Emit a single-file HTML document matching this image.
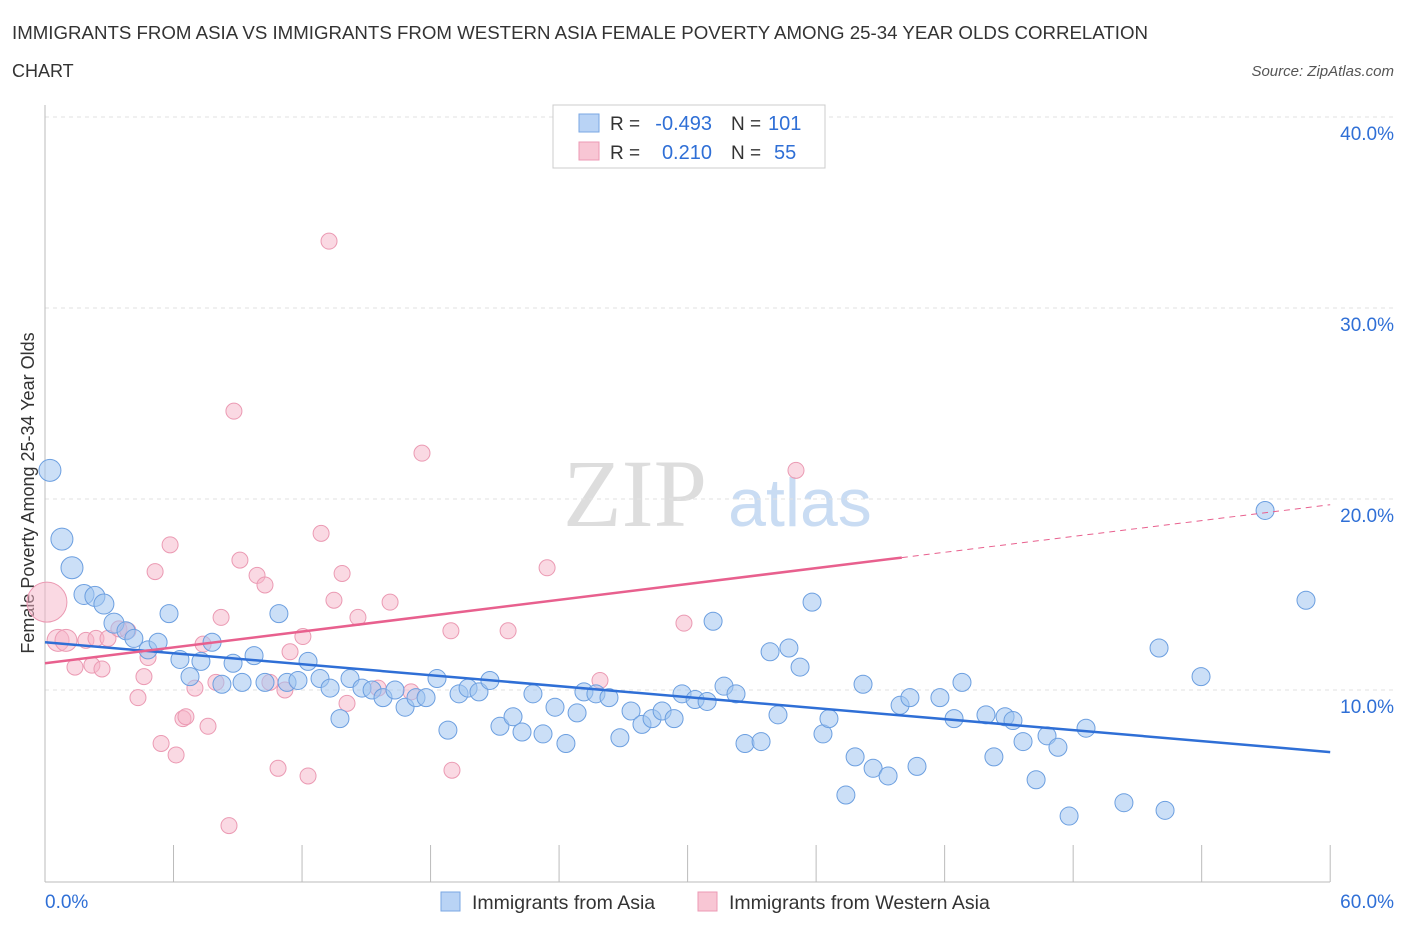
<!DOCTYPE html>
<html><head><meta charset="utf-8"><style>
body{margin:0;background:#fff;font-family:"Liberation Sans",sans-serif}
svg{display:block}
</style></head><body>
<svg id="chart" width="1406" height="930">
<text x="12" y="39" font-size="18" fill="#333" textLength="1136" lengthAdjust="spacingAndGlyphs">IMMIGRANTS FROM ASIA VS IMMIGRANTS FROM WESTERN ASIA FEMALE POVERTY AMONG 25-34 YEAR OLDS CORRELATION</text>
<text x="12" y="77" font-size="18" fill="#333">CHART</text>
<text x="1394" y="76" font-size="15" fill="#555" font-style="italic" text-anchor="end">Source: ZipAtlas.com</text>
<text x="635" y="526" font-size="96" fill="#ddd" font-family="Liberation Serif,serif" text-anchor="middle">ZIP</text>
<text x="800" y="526" font-size="68" fill="#c9dcf3" text-anchor="middle">atlas</text>
<text transform="translate(34,493) rotate(-90)" font-size="18" fill="#333" text-anchor="middle">Female Poverty Among 25-34 Year Olds</text>
<g id="grid"></g><g id="pts"></g><g id="lines"></g>
<g>
<rect x="553" y="105" width="272" height="63" fill="#fff" stroke="#ccc"/>
<rect x="579" y="114" width="20" height="18" fill="#b9d3f5" stroke="#7aa7e3"/>
<rect x="579" y="142" width="20" height="18" fill="#f8c6d4" stroke="#ec9ab4"/>
<text x="610" y="130" font-size="19" fill="#333">R =</text>
<text x="712" y="130" font-size="20" fill="#2f6fd6" text-anchor="end">-0.493</text>
<text x="731" y="130" font-size="19" fill="#333">N =</text>
<text x="768" y="130" font-size="20" fill="#2f6fd6">101</text>
<text x="610" y="159" font-size="19" fill="#333">R =</text>
<text x="712" y="159" font-size="20" fill="#2f6fd6" text-anchor="end">0.210</text>
<text x="731" y="159" font-size="19" fill="#333">N =</text>
<text x="774" y="159" font-size="20" fill="#2f6fd6">55</text>
</g>
<g>
<rect x="441" y="892" width="19" height="19" fill="#b9d3f5" stroke="#7aa7e3"/>
<text x="472" y="909" font-size="19.5" fill="#333">Immigrants from Asia</text>
<rect x="698" y="892" width="19" height="19" fill="#f8c6d4" stroke="#ec9ab4"/>
<text x="729" y="909" font-size="19.5" fill="#333">Immigrants from Western Asia</text>
</g>
</svg>
<script>
const yTicks=[10,20,30,40];
const xTickLabels=["0.0%","60.0%"];
const blueX=[0.23,0.79,1.26,1.82,2.33,2.75,3.22,3.78,4.15,4.81,5.28,5.79,6.30,6.77,7.28,7.80,8.26,8.78,9.20,9.76,10.27,10.92,11.30,11.81,12.28,12.84,13.31,13.77,14.24,14.80,15.27,15.78,16.34,16.81,17.32,17.79,18.30,18.81,19.33,19.75,20.26,20.77,21.24,21.85,22.27,22.78,23.25,23.81,24.32,24.84,25.16,25.72,26.33,26.84,27.36,27.87,28.34,28.81,29.37,29.74,30.35,30.91,31.19,31.70,32.26,32.68,33.43,33.85,34.22,34.73,35.25,35.81,36.32,36.60,37.39,37.82,38.19,38.66,39.36,39.92,40.38,40.71,41.78,42.44,42.81,43.93,44.30,44.82,45.19,45.66,46.27,46.78,47.29,47.81,48.60,50.37,52.01,52.29,53.97,56.96,58.87];
const blueY=[21.5,17.9,16.4,15.0,14.9,14.5,13.5,13.1,12.7,12.1,12.5,14.0,11.6,10.7,11.5,12.5,10.3,11.4,10.4,11.8,10.4,14.0,10.4,10.5,11.5,10.6,10.1,8.5,10.6,10.1,10.0,9.6,10.0,9.1,9.6,9.6,10.6,7.9,9.8,10.1,9.9,10.5,8.1,8.6,7.8,9.8,7.7,9.1,7.2,8.8,9.9,9.8,9.6,7.5,8.9,8.2,8.5,8.9,8.5,9.8,9.5,9.4,13.6,10.2,9.8,7.2,7.3,12.0,8.7,12.2,11.2,14.6,7.7,8.5,4.5,6.5,10.3,5.9,5.5,9.2,9.6,6.0,9.6,8.5,10.4,8.7,6.5,8.6,8.4,7.3,5.3,7.6,7.0,3.4,8.0,4.1,12.2,3.7,10.7,19.4,14.7];
const pinkX=[0.09,0.61,0.98,1.40,1.91,2.19,2.66,2.38,2.94,3.45,3.87,4.34,4.62,4.81,5.14,5.42,5.84,6.12,6.44,6.58,7.00,7.38,7.61,7.98,8.22,8.59,8.82,9.10,9.90,10.27,10.50,10.88,11.20,11.44,12.04,12.28,12.89,13.26,13.49,13.87,14.10,14.61,15.55,16.11,17.09,17.60,18.95,19.00,21.62,23.44,25.91,29.83,35.06];
const pinkY=[14.6,12.6,12.6,11.2,12.6,11.3,11.1,12.7,12.7,13.2,13.1,9.6,10.7,11.7,16.2,7.2,17.6,6.6,8.5,8.6,10.1,12.4,8.1,10.4,13.8,2.9,24.6,16.8,16.0,15.5,10.4,5.9,10.0,12.0,12.8,5.5,18.2,33.5,14.7,16.1,9.3,13.8,10.1,14.6,9.9,22.4,13.1,5.8,13.1,16.4,10.5,13.5,21.5];
const blueTrend=[12.5,6.75];
const pinkTrend=[11.4,19.7];
const pinkSolidEnd=40;
const NS="http://www.w3.org/2000/svg";
const X=v=>45+v*21.42, Y=v=>881-v*19.1;
function mk(t,a,p){const e=document.createElementNS(NS,t);for(const k in a)e.setAttribute(k,a[k]);p.appendChild(e);return e;}
const grid=document.getElementById('grid');
for(const t of yTicks){
 const g=mk('line',{x1:45,x2:1394,y1:Y(t),y2:Y(t),stroke:'#e2e2e2','stroke-dasharray':'4,4'},grid);
 
 
 const l=mk('text',{x:1394,y:Y(t)+23,'font-size':19,fill:'#2f6fd6','text-anchor':'end'},grid);
 l.textContent=t.toFixed(1)+'%';
 
 
}
mk('line',{x1:45,x2:45,y1:105,y2:882,stroke:'#bbb'},grid);
mk('line',{x1:45,x2:1330,y1:882,y2:882,stroke:'#bbb'},grid);
for(let i=1;i<=10;i++){mk('line',{x1:X(i*6),x2:X(i*6),y1:845,y2:882,stroke:'#bbb'},grid);}
const xl0=mk('text',{x:45,y:908,'font-size':19,fill:'#2f6fd6'},grid);xl0.textContent=xTickLabels[0];


const xl1=mk('text',{x:1394,y:908,'font-size':19,fill:'#2f6fd6','text-anchor':'end'},grid);xl1.textContent=xTickLabels[1];


const pts=document.getElementById('pts');
pinkX.forEach((x,i)=>{const c=mk('circle',{cx:X(x),cy:Y(pinkY[i]),r:i==0?20:(i<3?11:8),fill:'rgba(246,180,200,0.5)',stroke:'#eb9ab3','stroke-width':1},pts);
 
 });
blueX.forEach((x,i)=>{const c=mk('circle',{cx:X(x),cy:Y(blueY[i]),r:i<3?11:(i<7?10:9),fill:'rgba(160,196,240,0.55)',stroke:'#6c9fe0','stroke-width':1},pts);
 
 });
const ln=document.getElementById('lines');
const bl=mk('line',{x1:X(0),y1:Y(blueTrend[0]),x2:X(60),y2:Y(blueTrend[1]),stroke:'#2f6fd6','stroke-width':2.5},ln);


const pm=pinkTrend[0]+(pinkTrend[1]-pinkTrend[0])*pinkSolidEnd/60;
const pl=mk('line',{x1:X(0),y1:Y(pinkTrend[0]),x2:X(pinkSolidEnd),y2:Y(pm),stroke:'#e8608e','stroke-width':2.5},ln);


const pd=mk('line',{x1:X(pinkSolidEnd),y1:Y(pm),x2:X(60),y2:Y(pinkTrend[1]),stroke:'#e8608e','stroke-width':1,'stroke-dasharray':'6,5'},ln);


</script>
</body></html>
